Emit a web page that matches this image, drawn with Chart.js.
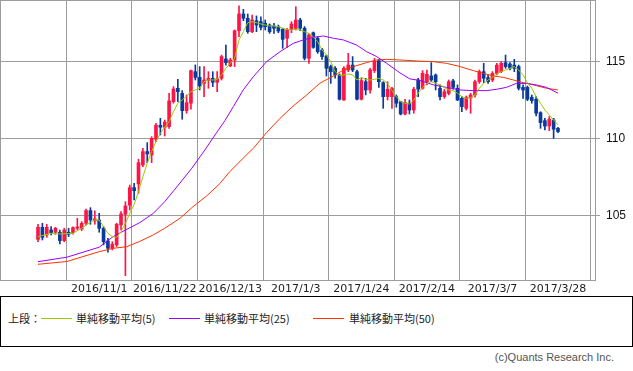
<!DOCTYPE html>
<html><head><meta charset="utf-8">
<script src="https://cdn.jsdelivr.net/npm/chart.js@4"></script>
<style>
html,body{margin:0;padding:0;background:#fff;}
#wrap{position:relative;width:633px;height:371px;overflow:hidden;background:#fff;}
#c{position:absolute;left:0;top:0;}
#legend{position:absolute;left:0;top:296px;width:631px;height:49px;border:1px solid #000;font-family:"Noto Sans CJK JP",sans-serif;font-size:11px;color:#222;}
.it{position:absolute;top:14px;line-height:14px;white-space:nowrap;}
.ln{position:absolute;top:21px;height:1px;width:31px;}
#copy{position:absolute;top:351px;right:19px;font-family:"Liberation Sans",sans-serif;font-size:11px;color:#555;white-space:nowrap;}
</style></head>
<body>
<div id="wrap">
<canvas id="c" width="633" height="294"></canvas>
<div id="legend">
  <span class="it" style="left:7px">上段：</span>
  <span class="ln" style="left:40px;background:#99cc00"></span>
  <span class="it" style="left:75px">単純移動平均(5)</span>
  <span class="ln" style="left:168px;background:#9900ff"></span>
  <span class="it" style="left:203px">単純移動平均(25)</span>
  <span class="ln" style="left:312px;background:#ff3300"></span>
  <span class="it" style="left:348px">単純移動平均(50)</span>
</div>
<div id="copy">(c)Quants Research Inc.</div>
</div>
<script>
// categories: weekday dates
const startDate = "2016-10-12";
const numBars = 120;
const xTickLabels = ["2016/11/1","2016/11/22","2016/12/13","2017/1/3","2017/1/24","2017/2/14","2017/3/7","2017/3/28"];
const yTickValues = [105, 110, 115];

const opens = [103.48,104.26,103.77,104.09,103.94,103.94,103.40,103.94,103.92,104.20,104.16,104.52,105.35,104.68,104.74,104.20,103.38,102.90,103.12,104.42,
105.11,105.70,106.84,107.08,108.31,109.18,108.96,109.98,110.89,110.76,110.80,112.42,113.29,112.96,111.84,112.32,114.37,114.00,113.61,113.79,
113.94,113.68,113.94,115.20,114.74,115.13,117.03,118.12,117.84,116.97,117.68,117.62,117.51,117.40,117.34,117.29,117.12,116.54,117.12,117.19,
117.73,117.19,115.24,116.90,116.54,115.78,115.39,114.70,114.59,114.16,112.53,114.48,114.80,114.37,112.58,113.72,113.18,114.44,115.09,113.66,
112.75,112.75,112.75,112.42,111.62,112.32,111.88,113.83,113.29,113.70,114.09,114.16,113.29,112.75,112.96,113.77,113.29,112.64,111.99,112.66,
112.86,113.72,114.37,113.98,113.83,114.26,114.37,114.96,114.87,114.80,114.70,113.35,113.35,112.71,112.58,111.71,111.19,110.84,111.23,110.69];
const highs = [104.46,104.52,104.46,104.31,104.26,104.09,104.20,104.20,104.29,104.85,104.63,105.45,105.54,105.33,105.17,104.31,103.55,103.33,104.52,105.28,
105.93,107.01,107.12,108.68,109.39,109.76,110.15,111.02,111.34,111.23,112.97,113.40,113.87,113.14,112.86,114.48,114.81,114.70,114.70,114.37,
114.37,114.37,115.45,116.10,115.24,117.08,118.64,118.42,118.12,118.05,117.99,117.94,117.73,117.47,117.51,117.40,117.19,117.19,117.62,118.59,
117.84,117.30,116.86,116.95,116.64,115.89,115.45,114.80,114.70,114.22,114.70,115.56,115.35,114.48,113.94,113.94,114.59,115.24,115.17,113.72,
113.72,113.35,112.86,112.45,112.58,112.53,113.35,113.94,114.44,114.48,114.96,114.22,113.51,113.23,113.83,113.87,113.51,112.75,112.79,112.97,
113.83,114.48,114.91,114.16,114.37,114.91,115.02,115.45,114.96,115.17,114.80,113.51,113.44,112.86,112.75,111.77,111.34,111.45,111.34,110.76];
const lows = [103.33,103.44,103.61,103.77,103.81,103.18,103.33,103.66,103.81,104.09,104.05,104.42,104.46,104.46,103.94,103.12,102.64,102.79,103.01,104.09,
101.12,105.39,106.04,106.47,108.20,108.46,108.46,109.83,110.26,110.19,110.69,112.32,112.42,111.28,111.67,111.93,113.83,113.18,112.75,113.29,
113.40,113.07,113.83,114.80,114.70,114.70,116.64,117.68,116.86,116.90,116.97,117.08,117.08,116.86,116.86,116.90,115.89,115.95,116.90,117.08,
117.03,115.13,114.91,115.89,115.56,115.17,114.09,113.61,113.94,112.53,112.50,114.37,114.37,112.53,112.53,112.86,112.97,114.31,113.35,111.99,
112.53,111.99,112.06,111.56,111.56,111.62,111.67,112.75,113.23,113.51,113.72,113.18,112.53,112.64,112.86,113.23,112.49,111.77,111.88,111.67,
112.71,113.61,113.66,113.61,113.72,114.16,114.31,114.59,114.48,114.37,113.18,112.64,112.49,112.32,111.49,110.69,110.58,110.54,110.04,110.41];
const closes = [104.26,103.61,104.26,103.92,104.20,103.40,104.09,103.81,104.24,104.29,104.52,105.35,104.74,104.81,104.20,103.33,102.90,103.16,104.46,105.13,
105.65,106.84,106.64,108.46,109.18,109.03,110.04,110.89,110.76,111.10,112.47,113.25,113.07,111.84,112.36,114.44,114.00,113.44,113.83,113.94,
113.68,113.90,115.35,114.96,115.13,117.03,118.12,117.84,116.97,117.73,117.40,117.25,117.29,116.97,117.19,117.01,116.47,117.08,117.47,117.73,
117.19,115.24,116.75,115.95,115.67,115.35,114.59,114.37,114.16,112.58,114.59,114.80,114.48,112.58,113.79,113.18,114.48,115.06,113.72,112.75,
113.23,113.29,112.32,111.62,112.36,111.88,113.23,113.23,114.26,114.20,113.83,113.72,112.75,113.07,113.72,113.35,112.53,112.10,112.71,112.86,
113.72,114.37,113.94,113.72,114.26,114.80,114.91,114.70,114.59,114.59,113.29,113.18,112.58,112.49,111.67,111.06,110.84,111.28,110.63,110.48];

// moving averages (bar index -> value)
const ma5Idx = [0,3,5,8,10,12,13,14,15,16,17,18,19,20,21,22,23,24,25,26,27,28,29,30,31,32,33,34,35,36,37,38,39,40,41,42,43,44,45,46,47,48,49,50,51,52,53,54,55,56,57,58,59,60,61,62,63,64,65,66,67,68,69,70,71,72,73,74,75,76,77,78,79,80,81,82,83,84,85,86,87,88,89,90,91,92,93,94,95,96,97,98,99,100,101,102,103,104,105,106,107,108,109,110,111,112,113,114,115,116,117,118,119];
const ma5Val = [103.66,103.87,103.83,103.87,104.20,104.59,104.74,104.74,104.31,103.87,103.66,103.61,103.98,104.52,105.17,105.75,106.58,107.55,108.42,109.18,109.83,110.37,110.76,111.12,111.77,112.32,112.53,112.79,113.07,113.18,113.29,113.72,113.83,113.83,113.87,114.16,114.59,114.91,115.24,116.43,116.97,117.55,117.62,117.55,117.47,117.40,117.34,117.34,117.29,117.19,117.12,117.08,117.12,117.08,116.97,116.86,116.64,116.32,115.78,115.45,115.02,114.37,114.12,114.16,114.22,114.16,113.83,114.00,113.87,113.83,113.87,113.94,113.83,113.61,113.14,112.75,112.42,112.32,112.27,112.53,112.97,113.35,113.61,113.72,113.61,113.51,113.35,113.18,113.14,112.97,112.75,112.64,112.68,112.86,113.29,113.61,113.83,114.00,114.22,114.37,114.48,114.59,114.70,114.48,114.16,113.66,113.29,112.75,112.32,111.88,111.56,111.23,110.91];
const ma25Idx = [0,6.6,14,17.2,20.3,23.3,26.4,29,32.1,35.2,38.2,40.5,42.8,44.7,47,49.3,52.3,55.4,58.4,60.7,63,65.3,67.6,69.9,72.9,75.2,77.5,79.8,82.8,85.1,87.4,90.5,93.5,96.6,99.6,102.7,105,107.2,109.5,111.8,114,116.4,119];
const ma25Val = [102.03,102.32,102.97,103.66,104.13,104.57,105.17,105.93,107.00,108.10,109.29,110.26,111.20,112.10,113.20,114.05,115.02,115.67,116.21,116.43,116.60,116.69,116.54,116.43,116.10,115.67,115.35,114.91,114.30,113.90,113.80,113.51,113.35,113.18,113.14,113.14,113.23,113.35,113.61,113.61,113.51,113.35,112.97];
const ma50Idx = [0,6.6,14,17.2,20.3,23.3,26.4,29,32.5,35.5,38.6,41.6,43.9,46.9,49.3,52.3,55.4,58.4,61.5,64.5,67.6,69.9,72.2,75.2,77.5,79.8,82.8,87,90.5,93.5,96.6,99.6,101.9,104.2,106.5,108.8,111,113.4,116.4,119];
const ma50Val = [101.86,102.04,102.68,102.90,103.00,103.35,103.77,104.20,104.85,105.61,106.30,107.10,107.88,108.74,109.40,110.41,111.34,112.14,112.86,113.62,114.09,114.48,114.70,114.96,115.13,115.17,115.13,115.06,115.02,114.91,114.70,114.44,114.26,114.09,114.00,113.83,113.66,113.51,113.29,113.18];

// build date categories (weekdays)
const dates = [];
{
  const d = new Date(startDate + "T00:00:00Z");
  while (dates.length < numBars) {
    const wd = d.getUTCDay();
    if (wd !== 0 && wd !== 6) dates.push(d.getUTCFullYear() + "/" + (d.getUTCMonth()+1) + "/" + d.getUTCDate());
    d.setUTCDate(d.getUTCDate() + 1);
  }
}
const xTickIdx = xTickLabels.map(l => dates.indexOf(l));

const UP = '#ff1446', DOWN = '#0a3a9c';
const barColor = c => { const i = c.dataIndex; return closes[i] >= opens[i] ? UP : DOWN; };
const GRID = '#9c9c9c';

const frame = {
  id: 'frame',
  beforeDatasetsDraw(chart) {
    const {ctx, chartArea: a} = chart;
    ctx.save();
    ctx.strokeStyle = GRID; ctx.lineWidth = 1;
    ctx.strokeRect(Math.round(a.left) - 0.5, Math.round(a.top) - 0.5, Math.round(a.right - a.left) + 1, Math.round(a.bottom - a.top) + 1);
    ctx.restore();
  }
};

new Chart(document.getElementById('c'), {
  type: 'bar',
  data: { datasets: [
    { type:'line', label:'MA5', data: ma5Idx.map((x,k)=>({x, y: ma5Val[k]})), borderColor:'#99cc00', borderWidth:1, pointRadius:0, tension:0, order:0 },
    { type:'line', label:'MA25', data: ma25Idx.map((x,k)=>({x, y: ma25Val[k]})), borderColor:'#9900ff', borderWidth:1, pointRadius:0, tension:0, order:0 },
    { type:'line', label:'MA50', data: ma50Idx.map((x,k)=>({x, y: ma50Val[k]})), borderColor:'#ff3300', borderWidth:1, pointRadius:0, tension:0, order:0 },
    { label:'body', data: opens.map((o,i)=>({x:i, y:[o, closes[i]]})), backgroundColor: barColor, borderWidth:0, barThickness:3, grouped:false, order:1 },
    { label:'wick', data: lows.map((l,i)=>({x:i, y:[l, highs[i]]})), backgroundColor: barColor, borderWidth:0, barThickness:1, grouped:false, order:2 }
  ]},
  options: {
    responsive:false, animation:false, events:[],
    layout:{ padding:{ left:1, top:1, right:0, bottom:0 } },
    plugins:{ legend:{display:false}, tooltip:{enabled:false} },
    scales:{
      x:{ type:'linear', min:-8.47, max:127.47, offset:false,
        afterBuildTicks: s => { s.ticks = xTickIdx.map(v => ({value:v})); },
        afterFit: s => { s.height = 14; s.paddingLeft = 0; s.paddingRight = 0; s.paddingTop = 0; s.paddingBottom = 0; },
        grid:{ color:GRID, drawTicks:false, lineWidth:1 },
        border:{ display:false },
        ticks:{ autoSkip:false, maxRotation:0, padding:3, color:'#222', font:{ family:'DejaVu Sans', size:11 },
          callback: v => dates[v] }
      },
      y:{ type:'linear', position:'right', min:100.84, max:118.96,
        afterBuildTicks: s => { s.ticks = yTickValues.map(v => ({value:v})); },
        afterFit: s => { s.width = 38; s.paddingTop = 0; s.paddingBottom = 0; s.paddingLeft = 0; s.paddingRight = 0; },
        grid:{ color:GRID, drawTicks:true, tickLength:5, lineWidth:1 },
        border:{ display:false },
        ticks:{ padding:6, color:'#111', font:{ family:'Liberation Sans', size:12 }, callback: v => String(v) }
      }
    }
  },
  plugins:[frame]
});
</script>
</body></html>
